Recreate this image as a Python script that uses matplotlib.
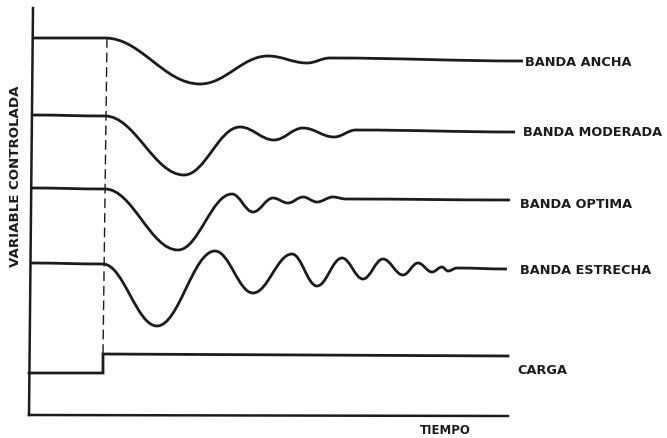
import matplotlib
matplotlib.use("Agg")
import matplotlib.pyplot as plt
from matplotlib.path import Path
from matplotlib.patches import PathPatch

# Turning points of each response curve (time, level) in drawing units
ancha_t = [33, 105, 200, 268, 307, 330, 523]
ancha_y = [38, 38, 84, 56, 63, 58, 61]

moderada_t = [33, 105, 184, 240, 274, 303, 334, 356, 515]
moderada_y = [115, 116, 175, 127, 140, 128, 137, 130, 132]

optima_t = [32, 105, 178, 232, 253, 273, 288, 303, 317, 333, 346, 510]
optima_y = [188, 189, 250, 194, 212, 198, 203, 197, 202, 197, 199, 200]

estrecha_t = [31, 103, 157, 215, 253, 292, 317, 342, 363, 383, 403, 418,
              432, 442, 448, 457, 507]
estrecha_y = [263, 264, 326, 251, 293, 254, 286, 258, 279, 259, 275, 263,
              272, 267, 271, 268, 269]

# Load step
carga_t = [29, 103, 103, 508]
carga_y = [373, 373, 354, 356]

labels = ["BANDA ANCHA", "BANDA MODERADA", "BANDA OPTIMA", "BANDA ESTRECHA",
          "CARGA"]
label_x = [525, 523, 520, 520, 517]
label_y = [62, 132, 204, 270, 370]

INK = "#1c1c1c"


def smooth_path(ts, ys, k=0.38):
    # cubic segments with flat tangents at every turning point
    verts = [(ts[0], ys[0])]
    codes = [Path.MOVETO]
    for i in range(len(ts) - 1):
        dt = ts[i + 1] - ts[i]
        verts += [(ts[i] + k * dt, ys[i]),
                  (ts[i + 1] - k * dt, ys[i + 1]),
                  (ts[i + 1], ys[i + 1])]
        codes += [Path.CURVE4] * 3
    return Path(verts, codes)


fig = plt.figure(figsize=(6.67, 4.38), dpi=100)
ax = fig.add_axes([0, 0, 1, 1])
ax.set_xlim(0, 667)
ax.set_ylim(438, 0)
ax.axis("off")

curves = [(ancha_t, ancha_y), (moderada_t, moderada_y),
          (optima_t, optima_y), (estrecha_t, estrecha_y)]

for ts, ys in curves:
    ax.add_patch(PathPatch(smooth_path(ts, ys), fill=False, lw=2.0,
                           edgecolor=INK, capstyle="butt"))

ax.plot(carga_t, carga_y, color=INK, lw=2.0, solid_joinstyle="miter")

for lab, x, y in zip(labels, label_x, label_y):
    ax.text(x, y, lab, fontsize=9.3, fontweight="bold", color=INK,
            va="center", ha="left")

# axes of the sketch
ax.plot([33, 29], [8, 415], color=INK, lw=1.8)
ax.plot([29, 508], [415, 416], color=INK, lw=1.8)

# moment the load changes
ax.plot([107, 103], [38, 354], color=INK, lw=1.0, ls=(0, (7, 3.5)))

ax.text(445, 430, "TIEMPO", fontsize=8.5, fontweight="bold", color=INK,
        va="center", ha="center")
ax.text(16, 176, "VARIABLE CONTROLADA", fontsize=9.6, fontweight="bold",
        color=INK, rotation=90, va="center", ha="center")

fig.savefig("out.png", dpi=100)
